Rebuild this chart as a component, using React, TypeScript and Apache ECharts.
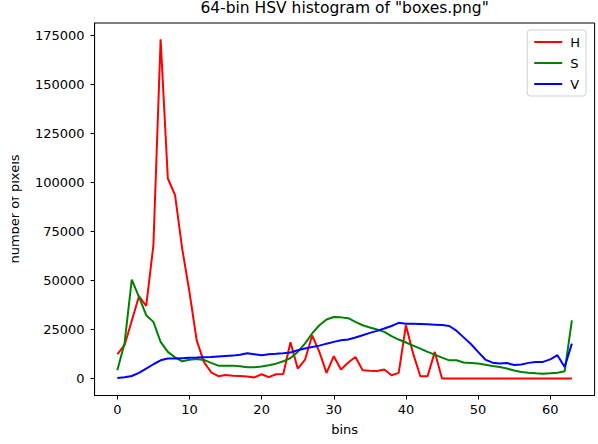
import React, { useEffect, useRef } from "react";
import * as echarts from "echarts";

// Per-bin pixel counts for each HSV channel (64 bins)
const hueCounts = [
  12500, 17000, 29500, 42000, 37000, 68000, 173000, 102000, 93500, 66000,
  44000, 19500, 8500, 3200, 1200, 1800, 1500, 1300, 1100, 600,
  2200, 700, 2200, 2300, 18500, 5100, 9500, 22000, 13600, 2900,
  11400, 4600, 8200, 11000, 4200, 4000, 3900, 4600, 1700, 2900,
  27200, 12700, 1200, 1200, 13600, 0, 0, 0, 0, 0,
  0, 0, 0, 0, 0, 0, 0, 0, 0, 0,
  0, 0, 0, 0,
];
const satCounts = [
  4200, 18000, 50500, 41600, 32300, 28900, 18700, 13600, 10800, 8800,
  9600, 10000, 9500, 8000, 6600, 6600, 6600, 6300, 5800, 5800,
  6100, 6800, 7600, 8800, 10500, 13600, 17800, 23000, 27200, 30100,
  31400, 31200, 30800, 28900, 27200, 26000, 25000, 23800, 21600, 19900,
  18400, 16800, 15300, 13600, 12200, 10700, 9300, 9300, 8200, 8000,
  7700, 7100, 6400, 5900, 5100, 4100, 3400, 3000, 2700, 2500,
  2700, 3000, 3700, 29700,
];
const valCounts = [
  300, 700, 1300, 2900, 5100, 7300, 9300, 10200, 10200, 10400,
  10600, 10700, 10900, 11000, 11300, 11500, 11700, 12100, 12900, 12400,
  11900, 12400, 12600, 12900, 13300, 14400, 15300, 16100, 16800, 17800,
  18700, 19500, 19900, 20900, 22100, 23300, 24300, 25500, 26800, 28400,
  28000, 27900, 27800, 27700, 27500, 27300, 26800, 24400, 21000, 17600,
  13600, 9700, 8100, 7700, 7900, 6900, 7200, 8000, 8400, 8500,
  9800, 11900, 5900, 17800,
];

const channelNames = ["H", "S", "V"];
const channelColors = ["#ff0000", "#008000", "#0000ff"];
const xTicks = [0, 10, 20, 30, 40, 50, 60];
const yTicks = [0, 25000, 50000, 75000, 100000, 125000, 150000, 175000];

const FONT = "DejaVu Sans";
// Legend handle: a 2px bar centred in a 28x14 box (the moveTo points fix the box)
const LINE_ICON = "path://M0,0 M28,0 M28,14 M0,14 M0,6 L28,6 L28,8 L0,8 Z";

export default function App() {
  const ref = useRef<HTMLDivElement>(null);

  useEffect(() => {
    if (!ref.current) return;
    const chart = echarts.init(ref.current, null, { renderer: "svg" });
    const channels = [hueCounts, satCounts, valCounts];
    const toPairs = (arr: number[]) => arr.map((v, i) => [i, v]);

    chart.setOption({
      animation: false,
      backgroundColor: "#ffffff",
      textStyle: { fontFamily: FONT },
      title: {
        text: '64-bin HSV histogram of "boxes.png"',
        left: 344.6,
        top: 0,
        textAlign: "center",
        padding: 0,
        textStyle: { fontFamily: FONT, fontSize: 15.5, fontWeight: "normal", color: "#000" },
      },
      legend: {
        data: channelNames,
        orient: "vertical",
        right: 12,
        top: 30,
        icon: LINE_ICON,
        itemWidth: 28,
        itemHeight: 14,
        itemGap: 7,
        padding: [5, 6, 5, 7],
        borderColor: "#d0d0d0",
        borderWidth: 1,
        borderRadius: 3,
        backgroundColor: "rgba(255,255,255,0.8)",
        textStyle: { fontFamily: FONT, fontSize: 13, color: "#000", padding: [0, 0, 0, 3] },
      },
      grid: {
        left: 94.6,
        right: 3.4,
        top: 23,
        bottom: 48.5,
        show: true,
        borderColor: "#000",
        borderWidth: 1,
        backgroundColor: "transparent",
      },
      xAxis: {
        type: "value",
        min: -3.15,
        max: 66.15,
        splitLine: { show: false },
        axisLine: { show: true, onZero: false, lineStyle: { color: "#000", width: 1 } },
        axisTick: {
          show: true,
          inside: false,
          length: 4,
          customValues: xTicks,
          lineStyle: { color: "#000", width: 1 },
        },
        axisLabel: {
          customValues: xTicks,
          margin: 7,
          fontFamily: FONT,
          fontSize: 13,
          color: "#000",
          formatter: (v: number) => String(v),
        },
        name: "bins",
        nameLocation: "middle",
        nameGap: 27,
        nameTextStyle: { fontFamily: FONT, fontSize: 13, color: "#000" },
      },
      yAxis: {
        type: "value",
        min: -8630,
        max: 181270,
        splitLine: { show: false },
        axisLine: { show: true, onZero: false, lineStyle: { color: "#000", width: 1 } },
        axisTick: {
          show: true,
          inside: false,
          length: 4,
          customValues: yTicks,
          lineStyle: { color: "#000", width: 1 },
        },
        axisLabel: {
          customValues: yTicks,
          margin: 10,
          fontFamily: FONT,
          fontSize: 13,
          color: "#000",
          formatter: (v: number) => String(v),
        },
      },
      graphic: [
        {
          type: "text",
          x: 14.5,
          y: 209,
          rotation: Math.PI / 2,
          style: {
            text: "number of pixels",
            fontFamily: FONT,
            fontSize: 13,
            fill: "#000",
            textAlign: "center",
            textVerticalAlign: "middle",
          },
          z: 10,
        },
        {
          type: "rect",
          shape: { x: 0, y: 0, width: 12, height: 444 },
          style: { fill: "#ffffff" },
          z: 20,
        },
      ],
      series: channels.map((arr, i) => ({
        name: channelNames[i],
        type: "line",
        data: toPairs(arr),
        symbol: "none",
        lineStyle: { color: channelColors[i], width: 2 },
        itemStyle: { color: channelColors[i] },
        clip: true,
      })),
    });

    return () => chart.dispose();
  }, []);

  return (
    <div
      ref={ref}
      style={{ position: "fixed", left: 0, top: 0, width: 598, height: 444 }}
    />
  );
}
